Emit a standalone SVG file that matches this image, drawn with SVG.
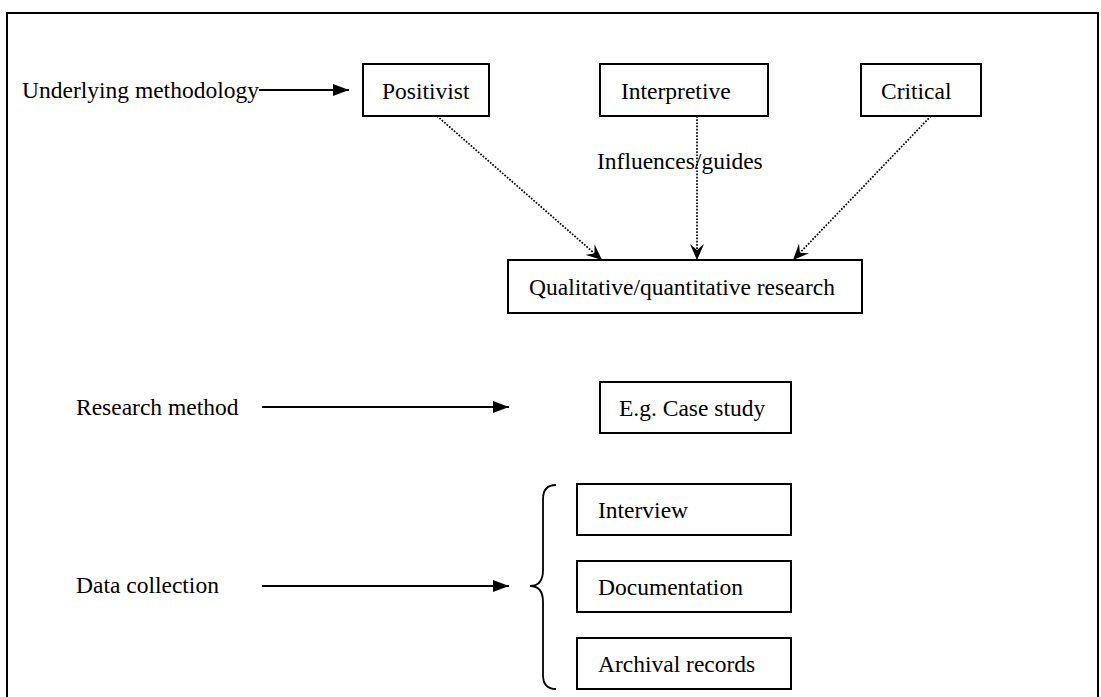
<svg xmlns="http://www.w3.org/2000/svg" width="1101" height="697" viewBox="0 0 1101 697">
  <style>
    text { font-family: "Liberation Serif", "Times New Roman", serif; font-size: 23.5px; fill: #000; }
    .box { fill: #fff; stroke: #000; stroke-width: 2; }
    .solid { fill: none; stroke: #000; stroke-width: 1.8; }
    .dotted { fill: none; stroke: #000; stroke-width: 1.7; stroke-dasharray: 1.7 1.5; }
  </style>
  <defs>
    <marker id="head" viewBox="0 0 16 12" refX="16" refY="6" markerWidth="16" markerHeight="12" markerUnits="userSpaceOnUse" orient="auto">
      <path d="M0,0 L16,6 L0,12 z" fill="#000"/>
    </marker>
    <marker id="barb" viewBox="0 0 16 14" refX="16" refY="7" markerWidth="16" markerHeight="14" markerUnits="userSpaceOnUse" orient="auto">
      <path d="M0,0 L16,7 L0,14 L6,7 z" fill="#000"/>
    </marker>
  </defs>

  <!-- outer frame (open at the bottom) -->
  <path d="M7,697 V13 H1098 V697" fill="none" stroke="#000" stroke-width="2"/>

  <!-- row labels -->
  <g id="labels">
    <text x="22" y="98">Underlying methodology</text>
    <text x="76" y="415">Research method</text>
    <text x="76" y="593">Data collection</text>
    <text x="597" y="169">Influences/guides</text>
  </g>

  <g id="positivist">
    <rect class="box" x="363" y="64" width="126" height="52"/>
    <text x="382" y="99">Positivist</text>
  </g>
  <g id="interpretive">
    <rect class="box" x="600" y="64" width="168" height="52"/>
    <text x="621" y="99">Interpretive</text>
  </g>
  <g id="critical">
    <rect class="box" x="861" y="64" width="120" height="52"/>
    <text x="881" y="99">Critical</text>
  </g>
  <g id="qualitative">
    <rect class="box" x="508" y="260" width="354" height="53"/>
    <text x="529" y="295">Qualitative/quantitative research</text>
  </g>
  <g id="case-study">
    <rect class="box" x="600" y="382" width="191" height="51"/>
    <text x="619" y="416">E.g. Case study</text>
  </g>
  <g id="interview">
    <rect class="box" x="577" y="484" width="214" height="51"/>
    <text x="598" y="518">Interview</text>
  </g>
  <g id="documentation">
    <rect class="box" x="577" y="561" width="214" height="51"/>
    <text x="598" y="595">Documentation</text>
  </g>
  <g id="archival">
    <rect class="box" x="577" y="638" width="214" height="51"/>
    <text x="598" y="672">Archival records</text>
  </g>

  <g id="connectors">
    <line class="solid" x1="259" y1="90" x2="349" y2="90" marker-end="url(#head)"/>
    <line class="solid" x1="262" y1="407" x2="509" y2="407" marker-end="url(#head)"/>
    <line class="solid" x1="262" y1="586" x2="509" y2="586" marker-end="url(#head)"/>
    <line class="dotted" x1="437" y1="116" x2="602" y2="260" marker-end="url(#barb)"/>
    <line class="dotted" x1="697" y1="116" x2="697" y2="260" marker-end="url(#barb)"/>
    <line class="dotted" x1="931" y1="116" x2="793" y2="260" marker-end="url(#barb)"/>
    <!-- curly brace grouping the data-collection methods -->
    <path class="solid" d="M556,485 Q543,485 543,499 V570 Q543,586 530,586 Q543,586 543,602 V675 Q543,689 556,689"/>
  </g>
</svg>
